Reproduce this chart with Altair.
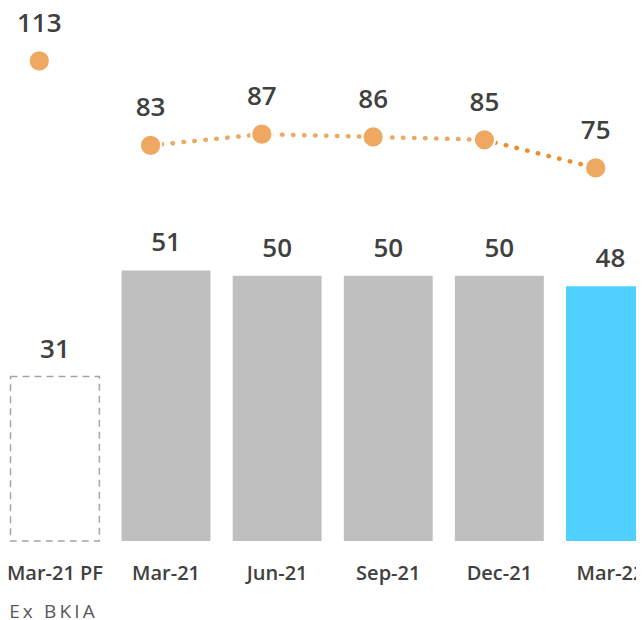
import altair as alt
import pandas as pd

# ---- data ----
categories = ["Mar-21 PF", "Mar-21", "Jun-21", "Sep-21", "Dec-21", "Mar-22"]
bar_values = [31, 51, 50, 50, 50, 48]
bar_kinds = ["pf", "hist", "hist", "hist", "hist", "curr"]
line_values = [113, 83, 87, 86, 85, 75]
footnote = "Ex BKIA"

bars_df = pd.DataFrame({"cat": categories, "value": bar_values, "kind": bar_kinds})
pts_df = pd.DataFrame({"cat": categories, "value": line_values, "idx": list(range(len(categories)))})
seg1_df = pts_df.iloc[1:5]
seg2_df = pts_df.iloc[4:6]
foot_df = pd.DataFrame({"cat": [categories[0]], "label": ["\u2009".join(list(footnote))]})

FONT = "Open Sans"
DARK = "#404040"

bar_x = alt.X(
    "cat:N", sort=categories,
    scale=alt.Scale(domain=categories, range=[2.5, 646.9], paddingInner=0.2, paddingOuter=0),
    axis=alt.Axis(title=None, labelFont=FONT, labelFontSize=20, labelFontWeight=600,
                  labelColor=DARK, domain=False, ticks=False, tickSize=0, grid=False,
                  labelPadding=38, labelBaseline="alphabetic", labelAngle=0,
                  labelOverlap=False),
)
bar_y = alt.Y("value:Q", scale=alt.Scale(domain=[0, 100.45], nice=False, zero=True), axis=None)

bars = alt.Chart(bars_df).transform_filter("datum.kind != 'pf'").mark_bar().encode(
    x=bar_x, y=bar_y,
    color=alt.Color("kind:N", scale=alt.Scale(domain=["hist", "curr"], range=["#BFBFBF", "#50D0FF"]), legend=None),
)
pf_bar = alt.Chart(bars_df).transform_filter("datum.kind == 'pf'").mark_bar(
    fill="white", stroke="#A6A6A6", strokeWidth=1.5, strokeDash=[7, 5]
).encode(x=bar_x, y=bar_y)
bar_text = alt.Chart(bars_df).mark_text(
    font=FONT, fontSize=26, fontWeight=600, color=DARK, baseline="alphabetic", dy=-19
).encode(x=bar_x, y=bar_y, text="value:Q")
foot = alt.Chart(foot_df).mark_text(
    font=FONT, fontSize=19, color="#595959", baseline="alphabetic", dx=-3
).encode(x=bar_x, y=alt.value(610), text="label:N")

bar_group = alt.layer(bars, pf_bar, bar_text, foot)

lx = alt.X("cat:N", sort=categories,
           scale=alt.Scale(type="point", domain=categories, range=[31.3, 587.7], padding=0),
           axis=None)
ly = alt.Y("value:Q", scale=alt.Scale(domain=[-57.5, 131.8], nice=False, zero=False), axis=None)

line1 = alt.Chart(seg1_df).mark_line(
    color="#EDA962", strokeWidth=4.5, strokeDash=[0.5, 10.5], strokeCap="round"
).encode(x=lx, y=ly, order="idx:Q")
line2 = alt.Chart(seg2_df).mark_line(
    color="#E8902F", strokeWidth=4.5, strokeDash=[0.5, 10.5], strokeCap="round"
).encode(x=lx, y=ly, order="idx:Q")
points = alt.Chart(pts_df).mark_circle(
    size=452, color="#EEA862", opacity=1, stroke="white", strokeWidth=2
).encode(x=lx, y=ly)
pt_text = alt.Chart(pts_df).mark_text(
    font=FONT, fontSize=26, fontWeight=600, color=DARK, baseline="alphabetic", dy=-29
).encode(x=lx, y=ly, text="value:Q")

line_group = alt.layer(line1, line2, points, pt_text)

chart = alt.layer(bar_group, line_group).resolve_scale(
    x="independent", y="independent"
).properties(
    width=628, height=533,
    autosize=alt.AutoSizeParams(type="none"),
    padding={"left": 0, "right": 0, "top": 0, "bottom": 79},
).configure_view(stroke=None)

chart.save("out.html", embed_options={"renderer": "svg", "actions": False})
